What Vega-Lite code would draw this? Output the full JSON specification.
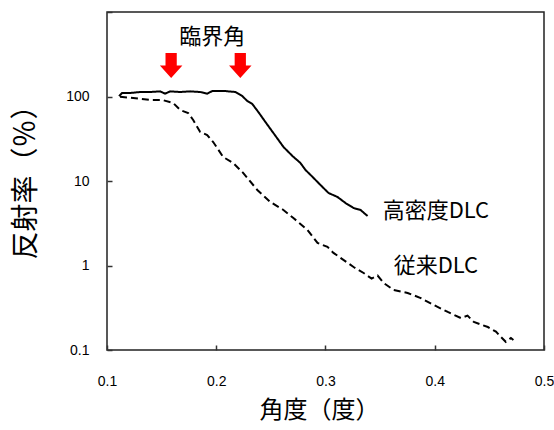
{
  "$schema": "https://vega.github.io/schema/vega-lite/v6.json",
  "autosize": "none",
  "padding": {"left": 107, "top": 12, "right": 10, "bottom": 80},
  "width": 437,
  "height": 338,
  "background": "white",
  "config": {
    "view": {"stroke": "#222", "strokeWidth": 1.5},
    "font": "Noto Sans CJK JP"
  },
  "datasets": {
    "curves": [
      {"series": "高密度DLC", "x": 0.1110, "y": 101},
      {"series": "高密度DLC", "x": 0.1138, "y": 110},
      {"series": "高密度DLC", "x": 0.1211, "y": 110},
      {"series": "高密度DLC", "x": 0.1303, "y": 113},
      {"series": "高密度DLC", "x": 0.1394, "y": 113},
      {"series": "高密度DLC", "x": 0.1486, "y": 115},
      {"series": "高密度DLC", "x": 0.1532, "y": 108},
      {"series": "高密度DLC", "x": 0.1578, "y": 115},
      {"series": "高密度DLC", "x": 0.1670, "y": 113},
      {"series": "高密度DLC", "x": 0.1761, "y": 115},
      {"series": "高密度DLC", "x": 0.1853, "y": 113},
      {"series": "高密度DLC", "x": 0.1917, "y": 108},
      {"series": "高密度DLC", "x": 0.1963, "y": 116},
      {"series": "高密度DLC", "x": 0.2083, "y": 116},
      {"series": "高密度DLC", "x": 0.2174, "y": 113},
      {"series": "高密度DLC", "x": 0.2239, "y": 101},
      {"series": "高密度DLC", "x": 0.2284, "y": 88.5},
      {"series": "高密度DLC", "x": 0.2330, "y": 81.5},
      {"series": "高密度DLC", "x": 0.2385, "y": 65.6},
      {"series": "高密度DLC", "x": 0.2450, "y": 49.9},
      {"series": "高密度DLC", "x": 0.2523, "y": 37.0},
      {"series": "高密度DLC", "x": 0.2615, "y": 25.3},
      {"series": "高密度DLC", "x": 0.2697, "y": 19.8},
      {"series": "高密度DLC", "x": 0.2771, "y": 16.3},
      {"series": "高密度DLC", "x": 0.2817, "y": 13.5},
      {"series": "高密度DLC", "x": 0.2881, "y": 11.2},
      {"series": "高密度DLC", "x": 0.2954, "y": 8.97},
      {"series": "高密度DLC", "x": 0.3028, "y": 7.21},
      {"series": "高密度DLC", "x": 0.3110, "y": 6.47},
      {"series": "高密度DLC", "x": 0.3183, "y": 5.49},
      {"series": "高密度DLC", "x": 0.3257, "y": 4.79},
      {"series": "高密度DLC", "x": 0.3321, "y": 4.54},
      {"series": "高密度DLC", "x": 0.3385, "y": 3.85},
      {"series": "従来DLC", "x": 0.1119, "y": 99.4},
      {"series": "従来DLC", "x": 0.1239, "y": 96},
      {"series": "従来DLC", "x": 0.1394, "y": 91},
      {"series": "従来DLC", "x": 0.1505, "y": 91},
      {"series": "従来DLC", "x": 0.1606, "y": 83.8},
      {"series": "従来DLC", "x": 0.1670, "y": 69.2},
      {"series": "従来DLC", "x": 0.1743, "y": 63.8},
      {"series": "従来DLC", "x": 0.1789, "y": 52.7},
      {"series": "従来DLC", "x": 0.1853, "y": 38.0},
      {"series": "従来DLC", "x": 0.1917, "y": 35.0},
      {"series": "従来DLC", "x": 0.1972, "y": 28.9},
      {"series": "従来DLC", "x": 0.2064, "y": 19.2},
      {"series": "従来DLC", "x": 0.2156, "y": 16.3},
      {"series": "従来DLC", "x": 0.2248, "y": 12.4},
      {"series": "従来DLC", "x": 0.2376, "y": 7.83},
      {"series": "従来DLC", "x": 0.2495, "y": 5.64},
      {"series": "従来DLC", "x": 0.2615, "y": 4.54},
      {"series": "従来DLC", "x": 0.2706, "y": 3.65},
      {"series": "従来DLC", "x": 0.2835, "y": 2.63},
      {"series": "従来DLC", "x": 0.2927, "y": 1.85},
      {"series": "従来DLC", "x": 0.3018, "y": 1.66},
      {"series": "従来DLC", "x": 0.3073, "y": 1.41},
      {"series": "従来DLC", "x": 0.3257, "y": 0.96},
      {"series": "従来DLC", "x": 0.3349, "y": 0.815},
      {"series": "従来DLC", "x": 0.3422, "y": 0.70},
      {"series": "従来DLC", "x": 0.3477, "y": 0.76},
      {"series": "従来DLC", "x": 0.3532, "y": 0.621},
      {"series": "従来DLC", "x": 0.3624, "y": 0.513},
      {"series": "従来DLC", "x": 0.3752, "y": 0.473},
      {"series": "従来DLC", "x": 0.3872, "y": 0.412},
      {"series": "従来DLC", "x": 0.3991, "y": 0.341},
      {"series": "従来DLC", "x": 0.4119, "y": 0.282},
      {"series": "従来DLC", "x": 0.4239, "y": 0.239},
      {"series": "従来DLC", "x": 0.4300, "y": 0.255},
      {"series": "従来DLC", "x": 0.4358, "y": 0.215},
      {"series": "従来DLC", "x": 0.4486, "y": 0.187},
      {"series": "従来DLC", "x": 0.4560, "y": 0.165},
      {"series": "従来DLC", "x": 0.4606, "y": 0.1425},
      {"series": "従来DLC", "x": 0.4650, "y": 0.125},
      {"series": "従来DLC", "x": 0.4697, "y": 0.1387},
      {"series": "従来DLC", "x": 0.4720, "y": 0.1313}
    ],
    "arrows": [
      {"x": 0.1587, "y": 232},
      {"x": 0.2220, "y": 232}
    ],
    "centerLabels": [
      {"x": 0.1963, "y": 506, "text": "臨界角"}
    ],
    "leftLabels": [
      {"x": 0.3523, "y": 4.42, "text": "高密度DLC"},
      {"x": 0.3624, "y": 0.986, "text": "従来DLC"}
    ]
  },
  "layer": [
    {
      "data": {"name": "curves"},
      "mark": {"type": "line", "color": "black", "strokeWidth": 2, "clip": true},
      "encoding": {
        "x": {
          "field": "x", "type": "quantitative",
          "scale": {"domain": [0.1, 0.5], "nice": false, "zero": false},
          "axis": {
            "title": "角度（度）",
            "titleFont": "Noto Sans CJK JP", "titleFontSize": 24, "titleFontWeight": "normal",
            "titleColor": "black", "titleX": 212, "titleY": 60, "titleBaseline": "middle",
            "values": [0.1, 0.2, 0.3, 0.4, 0.5], "format": ".1f",
            "grid": false, "domain": false, "labelFlush": false,
            "tickSize": -5, "tickColor": "#333", "tickWidth": 1.5,
            "labelPadding": 29, "labelFont": "Liberation Sans", "labelFontSize": 14,
            "labelColor": "black", "labelBaseline": "top"
          }
        },
        "y": {
          "field": "y", "type": "quantitative",
          "scale": {"type": "log", "domain": [0.1, 1000], "nice": false},
          "axis": {
            "title": "反射率（％）",
            "titleFont": "Noto Sans CJK JP", "titleFontSize": 28, "titleFontWeight": "normal",
            "titleColor": "black", "titleX": -81, "titleY": 163, "titleAngle": -90,
            "titleAlign": "center", "titleBaseline": "middle",
            "values": [0.1, 1, 10, 100, 1000],
            "labelExpr": "datum.value >= 1000 ? '' : format(datum.value, '~g')",
            "grid": false, "domain": false, "labelFlush": false,
            "tickSize": -5, "tickColor": "#333", "tickWidth": 1.5,
            "labelPadding": 23, "labelFont": "Liberation Sans", "labelFontSize": 14,
            "labelColor": "black", "labelBaseline": "middle", "labelAlign": "right"
          }
        },
        "strokeDash": {
          "field": "series", "type": "nominal",
          "scale": {"domain": ["高密度DLC", "従来DLC"], "range": [[1, 0], [7, 4]]},
          "legend": null
        }
      }
    },
    {
      "data": {"name": "arrows"},
      "mark": {
        "type": "point", "filled": true, "color": "#ff0000", "opacity": 1,
        "shape": "M-0.45,-1L0.45,-1L0.45,0L0.9,0L0,1L-0.9,0L-0.45,0Z",
        "size": 625
      },
      "encoding": {
        "x": {"field": "x", "type": "quantitative"},
        "y": {"field": "y", "type": "quantitative"}
      }
    },
    {
      "data": {"name": "centerLabels"},
      "mark": {"type": "text", "font": "Noto Sans CJK JP", "fontSize": 22, "color": "black", "baseline": "middle", "align": "center"},
      "encoding": {
        "x": {"field": "x", "type": "quantitative"},
        "y": {"field": "y", "type": "quantitative"},
        "text": {"field": "text"}
      }
    },
    {
      "data": {"name": "leftLabels"},
      "mark": {"type": "text", "font": "Noto Sans CJK JP", "fontSize": 22, "color": "black", "baseline": "middle", "align": "left"},
      "encoding": {
        "x": {"field": "x", "type": "quantitative"},
        "y": {"field": "y", "type": "quantitative"},
        "text": {"field": "text"}
      }
    }
  ]
}
